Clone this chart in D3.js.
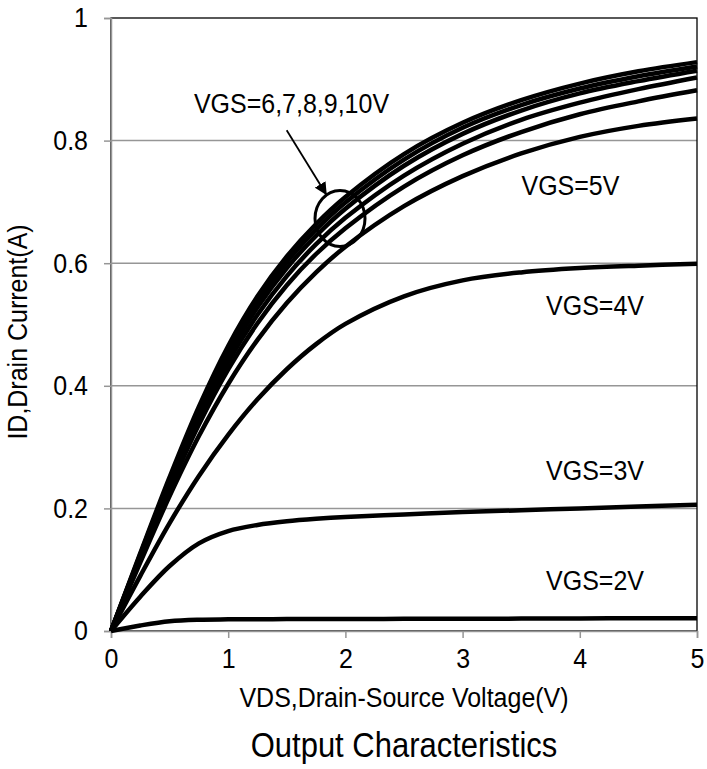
<!DOCTYPE html>
<html>
<head>
<meta charset="utf-8">
<script src="https://cdn.jsdelivr.net/npm/d3@7"></script>
<style>
  html, body { margin: 0; padding: 0; background: #fff; }
  text { font-family: "Liberation Sans", Arial, sans-serif; fill: #000; }
</style>
</head>
<body>
<div id="chart"></div>
<script>
// VDS sample points (V)
var vds = [0, 0.25, 0.5, 0.75, 1, 1.25, 1.5, 1.75, 2, 2.5, 3, 3.5, 4, 4.5, 5];

// ID (A) per gate voltage
var id10 = [0, 0.127, 0.251, 0.366, 0.465, 0.546, 0.611, 0.664, 0.708, 0.778, 0.829, 0.866, 0.893, 0.913, 0.928];
var id9  = [0, 0.125, 0.247, 0.360, 0.457, 0.537, 0.602, 0.655, 0.699, 0.769, 0.821, 0.858, 0.885, 0.905, 0.921];
var id8  = [0, 0.123, 0.243, 0.354, 0.449, 0.528, 0.592, 0.645, 0.689, 0.759, 0.811, 0.849, 0.877, 0.897, 0.914];
var id7  = [0, 0.121, 0.238, 0.346, 0.439, 0.516, 0.579, 0.631, 0.674, 0.743, 0.795, 0.834, 0.862, 0.884, 0.903];
var id6  = [0, 0.118, 0.232, 0.337, 0.427, 0.502, 0.564, 0.615, 0.657, 0.725, 0.776, 0.814, 0.843, 0.864, 0.882];
var id5  = [0, 0.112, 0.220, 0.318, 0.403, 0.475, 0.535, 0.585, 0.627, 0.693, 0.742, 0.779, 0.806, 0.824, 0.836];
var id4  = [0, 0.090, 0.176, 0.253, 0.320, 0.378, 0.427, 0.468, 0.501, 0.546, 0.572, 0.585, 0.592, 0.596, 0.599];
var id3  = [0, 0.056, 0.106, 0.143, 0.163, 0.173, 0.179, 0.183, 0.186, 0.190, 0.194, 0.197, 0.200, 0.203, 0.206];
var id2  = [0, 0.009, 0.016, 0.0185, 0.019, 0.0192, 0.0194, 0.0195, 0.0196, 0.0198, 0.0200, 0.0202, 0.0205, 0.0207, 0.021];

var seriesList = [id2, id3, id4, id5, id6, id7, id8, id9, id10];

var xTicks = [0, 1, 2, 3, 4, 5];
var yTicks = [0, 0.2, 0.4, 0.6, 0.8, 1];

// labels: [text, vds, id]
var labels = [
  ['VGS=6,7,8,9,10V', 1.54, 0.861],
  ['VGS=5V', 3.92, 0.727],
  ['VGS=4V', 4.13, 0.532],
  ['VGS=3V', 4.13, 0.263],
  ['VGS=2V', 4.13, 0.083]
];
var circleAt = [1.954, 0.673];
var arrowFrom = [1.499, 0.817];
var arrowTo = [1.841, 0.711];

var W = 707, H = 769;
var margin = { top: 18, right: 10, bottom: 138, left: 111 };
var width = W - margin.left - margin.right;
var height = H - margin.top - margin.bottom;
var tall = 1.12; // glyphs in the picture are a bit taller than wide

var svg = d3.select('#chart').append('svg')
    .attr('width', W).attr('height', H);
var g = svg.append('g')
    .attr('transform', 'translate(' + margin.left + ',' + margin.top + ')');

var x = d3.scaleLinear().domain([0, 5]).range([0, width]);
var y = d3.scaleLinear().domain([0, 1]).range([height, 0]);

// gridlines
g.selectAll('.grid').data(yTicks.slice(1, 5)).enter().append('line')
    .attr('x1', 0).attr('x2', width)
    .attr('y1', function(d){ return y(d); }).attr('y2', function(d){ return y(d); })
    .attr('stroke', '#969696').attr('stroke-width', 1.5);

// plot border (top/right dark)
g.append('rect')
    .attr('x', 0).attr('y', 0).attr('width', width).attr('height', height)
    .attr('fill', 'none').attr('stroke', '#000').attr('stroke-width', 1.3);

// axes
var yAxis = d3.axisLeft(y).tickValues(yTicks).tickSize(7).tickPadding(16)
    .tickFormat(function(d){ return d3.format('~g')(d); });
var yG = g.append('g').call(yAxis);
var xAxis = d3.axisBottom(x).tickValues(xTicks).tickSize(7).tickPadding(8)
    .tickFormat(d3.format('d'));
var xG = g.append('g').attr('transform', 'translate(0,' + height + ')').call(xAxis);

[yG, xG].forEach(function(a){
  a.select('.domain').attr('stroke', '#969696').attr('stroke-width', 1.5);
  a.selectAll('.tick line').attr('stroke', '#969696').attr('stroke-width', 1.5);
  a.selectAll('.tick text').style('font-size', '25px')
    .style('font-family', '"Liberation Sans", Arial, sans-serif').attr('fill', '#000')
    .attr('transform', 'scale(1,' + tall + ')');
});

// curves
var line = d3.line()
    .x(function(d, i){ return x(vds[i]); })
    .y(function(d){ return y(d); })
    .curve(d3.curveCatmullRom.alpha(0.5));

g.selectAll('.curve').data(seriesList).enter().append('path')
    .attr('d', line)
    .attr('fill', 'none')
    .attr('stroke', '#000')
    .attr('stroke-width', 4.5)
    .attr('stroke-linejoin', 'round');

// text helper: stretched a little vertically around its anchor
function label(parent, px, py, str, size, rot) {
  return parent.append('text')
    .attr('transform', 'translate(' + px + ',' + py + ')' + (rot ? ' rotate(' + rot + ')' : '') + ' scale(1,' + tall + ')')
    .attr('text-anchor', 'middle')
    .style('font-size', size + 'px')
    .text(str);
}

labels.forEach(function(d){
  label(g, x(d[1]), y(d[2]), d[0], 25).attr('dy', '0.35em');
});

g.append('ellipse')
    .attr('cx', x(circleAt[0])).attr('cy', y(circleAt[1]))
    .attr('rx', 25).attr('ry', 28)
    .attr('fill', 'none').attr('stroke', '#000').attr('stroke-width', 3);

svg.append('defs').append('marker')
    .attr('id', 'arr').attr('viewBox', '0 0 10 10')
    .attr('refX', 10).attr('refY', 5)
    .attr('markerWidth', 7).attr('markerHeight', 7)
    .attr('orient', 'auto')
    .attr('markerUnits', 'strokeWidth')
    .append('path').attr('d', 'M0,0 L10,5 L0,10 z').attr('fill', '#000');

g.append('line')
    .attr('x1', x(arrowFrom[0])).attr('y1', y(arrowFrom[1]))
    .attr('x2', x(arrowTo[0])).attr('y2', y(arrowTo[1]))
    .attr('stroke', '#000').attr('stroke-width', 1.8)
    .attr('marker-end', 'url(#arr)');

// axis titles
label(svg, margin.left + width / 2, 707, 'VDS,Drain-Source Voltage(V)', 25);
label(svg, 27, 332, 'ID,Drain Current(A)', 25, -90);
label(svg, margin.left + width / 2, 757, 'Output Characteristics', 31);
</script>
</body>
</html>
